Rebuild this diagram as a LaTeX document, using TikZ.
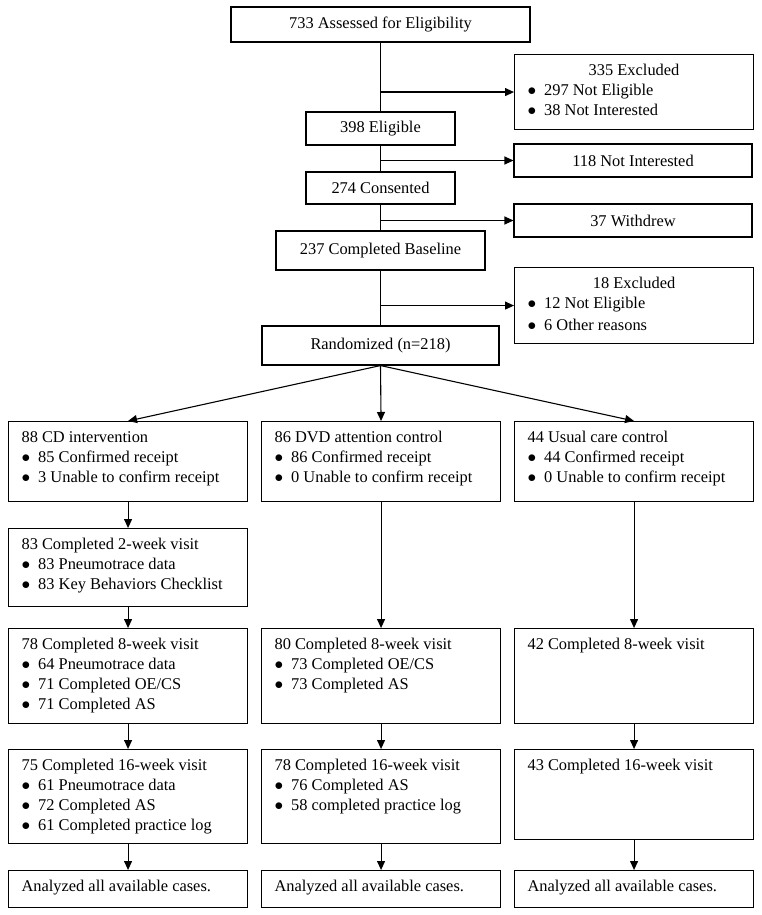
\documentclass[tikz,border=0pt]{standalone}
\usepackage{fontspec}
\setmainfont{Liberation Serif}
\usetikzlibrary{arrows.meta}
\newcommand{\bul}{$\bullet$\hspace{8pt}}
\newcommand{\cellbox}[2]{\parbox[t][#1][t]{213pt}{\strut#2}}
\begin{document}
\begin{tikzpicture}[x=1pt, y=-1pt, line width=1.1pt, >={Triangle[length=9pt,width=8pt]},
	font=\fontsize{16.4}{20}\selectfont,
	box/.style={draw, inner sep=0pt},
	lst/.style={draw, anchor=north west, inner xsep=13pt, inner ysep=7pt}]
	\useasboundingbox (0,0) rectangle (761,915);
	% screening
	\node[box, minimum width=299pt, minimum height=35pt] (assess) at (380.5,24.5) {733 Assessed for Eligibility};
	\node[lst] (excla) at (514,54) {\cellbox{61pt}{{\centering 335 Excluded\par}\bul 297 Not Eligible\\ \bul 38 Not Interested}};
	\node[box, minimum width=149pt, minimum height=33pt] (elig) at (380.5,128.5) {398 Eligible};
	\node[box, minimum width=238pt, minimum height=33pt] (notint) at (633,160.5) {118 Not Interested};
	\node[box, minimum width=149pt, minimum height=32pt] (cons) at (380.5,188) {274 Consented};
	\node[box, minimum width=238pt, minimum height=33pt] (withd) at (633,220.5) {37 Withdrew};
	\node[box, minimum width=209pt, minimum height=39pt] (base) at (380.5,250.5) {237 Completed Baseline};
	\node[lst] (exclb) at (514,267) {\cellbox{62pt}{{\centering 18 Excluded\par}\bul 12 Not Eligible\\[2pt] \bul 6 Other reasons}};
	\node[box, minimum width=237pt, minimum height=39pt] (rand) at (380.5,345.5) {Randomized (n=218)};
	\draw (assess) -- (elig);
	\draw (elig) -- (cons);
	\draw (cons) -- (base);
	\draw (base) -- (rand);
	\draw[->] (assess.south |- excla.west) -- (excla.west);
	\draw[->] (elig.south |- notint.west) -- (notint.west);
	\draw[->] (cons.south |- withd.west) -- (withd.west);
	\draw[->] (base.south |- exclb.west) -- (exclb.west);
	% arms
	\node[lst] (cd) at (8,421) {\cellbox{66pt}{88 CD intervention\\ \bul 85 Confirmed receipt\\ \bul 3 Unable to confirm receipt}};
	\node[lst] (dvd) at (261,421) {\cellbox{66pt}{86 DVD attention control\\ \bul 86 Confirmed receipt\\ \bul 0 Unable to confirm receipt}};
	\node[lst] (usual) at (514,421) {\cellbox{66pt}{44 Usual care control\\ \bul 44 Confirmed receipt\\ \bul 0 Unable to confirm receipt}};
	\node[lst] (cdtwo) at (8,528) {\cellbox{64pt}{83 Completed 2-week visit\\ \bul 83 Pneumotrace data\\ \bul 83 Key Behaviors Checklist}};
	\node[lst] (cdeight) at (8,628) {\cellbox{81pt}{78 Completed 8-week visit\\ \bul 64 Pneumotrace data\\ \bul 71 Completed OE/CS\\ \bul 71 Completed AS}};
	\node[lst] (dvdeight) at (261,628) {\cellbox{81pt}{80 Completed 8-week visit\\ \bul 73 Completed OE/CS\\ \bul 73 Completed AS}};
	\node[lst] (usueight) at (514,628) {\cellbox{81pt}{42 Completed 8-week visit}};
	\node[lst] (cdsixteen) at (8,749) {\cellbox{80pt}{75 Completed 16-week visit\\ \bul 61 Pneumotrace data\\ \bul 72 Completed AS\\ \bul 61 Completed practice log}};
	\node[lst] (dvdsixteen) at (261,749) {\cellbox{80pt}{78 Completed 16-week visit\\ \bul 76 Completed AS\\ \bul 58 completed practice log}};
	\node[lst] (usesixteen) at (514,749) {\cellbox{76pt}{43 Completed 16-week visit}};
	\node[lst] (cdana) at (8,870) {\cellbox{23pt}{Analyzed all available cases.}};
	\node[lst] (dvdana) at (261,870) {\cellbox{23pt}{Analyzed all available cases.}};
	\node[lst] (usuana) at (514,870) {\cellbox{23pt}{Analyzed all available cases.}};
	\draw[->] (rand.south) -- (cd.north);
	\draw[->] (rand.south) -- (dvd.north);
	\draw[->] (rand.south) -- (usual.north);
	\draw[->] (cd) -- (cdtwo);
	\draw[->] (cdtwo) -- (cdeight);
	\draw[->] (dvd) -- (dvdeight);
	\draw[->] (usual) -- (usueight);
	\draw[->] (cdeight) -- (cdsixteen);
	\draw[->] (dvdeight) -- (dvdsixteen);
	\draw[->] (usueight) -- (usesixteen);
	\draw[->] (cdsixteen) -- (cdana);
	\draw[->] (dvdsixteen) -- (dvdana);
	\draw[->] (usesixteen) -- (usuana);
\end{tikzpicture}
\end{document}
